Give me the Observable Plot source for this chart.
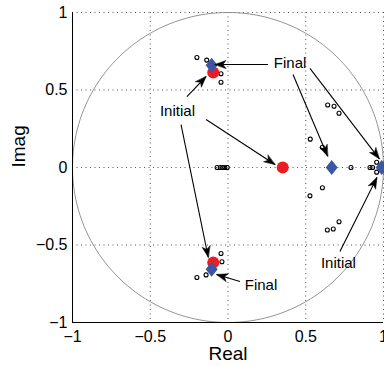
<!DOCTYPE html>
<html><head><meta charset="utf-8">
<script src="https://cdn.jsdelivr.net/npm/d3@7"></script>
<script src="https://cdn.jsdelivr.net/npm/@observablehq/plot@0.6"></script>
<style>
body{margin:0;background:#fff}
svg{display:block}
</style>
</head><body><div id="chart"></div>
<script>
// Data
const initialRe = [-0.095, -0.095, 0.352, 1.0];
const initialIm = [0.613, -0.613, 0, 0];
const finalRe = [-0.105, -0.105, 0.667, 0.988];
const finalIm = [0.66, -0.656, 0, 0];
const pathRe = [-0.20, -0.137, -0.045, -0.045, -0.20, -0.141, -0.039, -0.045,
  0.641, 0.682, 0.714, 0.529, 0.607, 0.607, 0.527, 0.714, 0.677, 0.639,
  0.791, 0.913, 0.93, 0.956, 0.956, -0.07, -0.05, -0.035, -0.02, -0.005];
const pathIm = [0.71, 0.693, 0.605, 0.55, -0.71, -0.693, -0.608, -0.555,
  0.403, 0.395, 0.35, 0.183, 0.131, -0.131, -0.183, -0.35, -0.397, -0.403,
  0, 0, 0, 0.034, -0.03, 0, 0, 0, 0, 0];
const ticks = [-1, -0.5, 0, 0.5, 1];
const gridTicks = [-0.5, 0, 0.5, 1];

// Annotations
const labelText = ["Final", "Initial", "Initial", "Final"];
const labelRe = [0.399, -0.325, 0.71, 0.212];
const labelIm = [0.671, 0.361, -0.616, -0.761];
const arrowX1 = [0.257, 0.418, 0.527, -0.264, -0.141, -0.302, 0.72, 0.077];
const arrowY1 = [0.665, 0.60, 0.639, 0.458, 0.31, 0.277, -0.542, -0.735];
const arrowX2 = [-0.084, 0.641, 0.973, -0.141, 0.302, -0.127, 0.958, -0.073];
const arrowY2 = [0.665, 0.073, 0.056, 0.587, 0.019, -0.579, -0.065, -0.69];

const initial = initialRe.map((re, i) => ({re, im: initialIm[i]}));
const final = finalRe.map((re, i) => ({re, im: finalIm[i]}));
const path = pathRe.map((re, i) => ({re, im: pathIm[i]}));
const labels = labelText.map((t, i) => ({t, re: labelRe[i], im: labelIm[i]}));
const arrows = arrowX1.map((x1, i) => ({x1, y1: arrowY1[i], x2: arrowX2[i], y2: arrowY2[i]}));
const unitCircle = d3.range(0, 361, 2).map(a => ({re: Math.cos(a * Math.PI / 180), im: Math.sin(a * Math.PI / 180)}));

const diamond = {
  draw(context) {
    context.moveTo(0, -7.5);
    context.lineTo(6, 0);
    context.lineTo(0, 7.5);
    context.lineTo(-6, 0);
    context.closePath();
  }
};
const head = {
  draw(context, l) {
    context.moveTo(0, -l);
    context.lineTo(4, 0);
    context.lineTo(0, -3);
    context.lineTo(-4, 0);
    context.closePath();
  }
};

const fmt = d => (d < 0 ? "\u2212" : "") + Math.abs(d);
const font = "'Liberation Sans', Arial, Helvetica, sans-serif";

const chart = Plot.plot({
  width: 384,
  height: 367,
  marginLeft: 72,
  marginRight: 1,
  marginTop: 12,
  marginBottom: 45,
  x: {domain: [-1, 1]},
  y: {domain: [-1, 1]},
  style: {fontFamily: font, fontSize: "16px", background: "white", color: "black"},
  marks: [
    Plot.ruleX(gridTicks, {stroke: "#555", strokeDasharray: "1,3.5", strokeWidth: 1}),
    Plot.ruleY(gridTicks, {stroke: "#555", strokeDasharray: "1,3.5", strokeWidth: 1}),
    Plot.line(unitCircle, {x: "re", y: "im", stroke: "#888", strokeWidth: 0.9}),
    Plot.ruleX([-1], {stroke: "black", strokeWidth: 1}),
    Plot.ruleY([-1], {stroke: "black", strokeWidth: 1}),
    Plot.axisX(ticks, {tickSize: 0, tickPadding: 8, fontSize: 16, label: null, tickFormat: fmt}),
    Plot.axisY(ticks, {tickSize: 0, tickPadding: 5, fontSize: 16, label: null, tickFormat: fmt}),
    Plot.text(["Real"], {frameAnchor: "bottom", dy: 37, fontSize: 19}),
    Plot.text(["Imag"], {frameAnchor: "left", dx: -54, rotate: -90, fontSize: 19}),
    Plot.dot(path, {x: "re", y: "im", r: 2, stroke: "black", strokeWidth: 1.1, fill: "none"}),
    Plot.dot(initial, {x: "re", y: "im", r: 6, fill: "#ec1c24", stroke: "none"}),
    Plot.dot(final, {x: "re", y: "im", symbol: diamond, fill: "#3a56a5", stroke: "none"}),
    Plot.link(arrows, {x1: "x1", y1: "y1", x2: "x2", y2: "y2", stroke: "black", strokeWidth: 1.1}),
    Plot.vector(arrows, {
      x: "x2", y: "y2",
      rotate: d => Math.atan2(d.x2 - d.x1, d.y2 - d.y1) * 180 / Math.PI,
      length: 11, anchor: "end", shape: head, fill: "black", stroke: "black", strokeWidth: 0.5
    }),
    Plot.text(labels, {x: "re", y: "im", text: "t", fontSize: 15, fill: "black"})
  ]
});
document.getElementById("chart").appendChild(chart);
</script>
</body></html>
